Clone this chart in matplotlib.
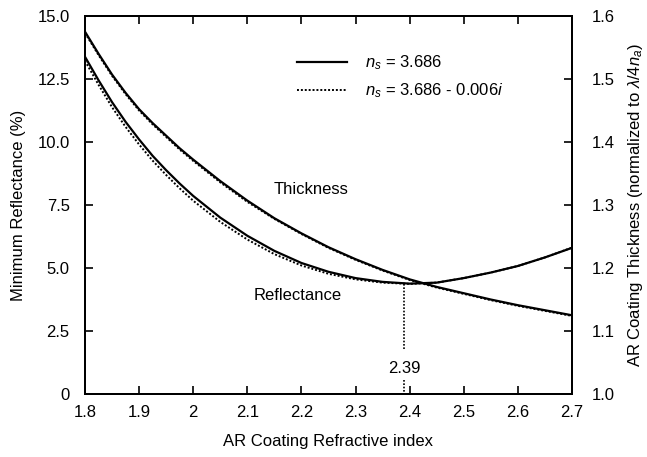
import numpy as np
import matplotlib
matplotlib.use("Agg")
import matplotlib.pyplot as plt

plt.rcParams['font.family'] = ['Liberation Sans', 'DejaVu Sans']
plt.rcParams['mathtext.fontset'] = 'custom'
plt.rcParams['mathtext.rm'] = 'Liberation Sans'
plt.rcParams['mathtext.it'] = 'Liberation Sans:italic'

# refractive index of the AR coating
n_coat = [1.800, 1.825, 1.850, 1.875, 1.900, 1.925, 1.950, 1.975, 2.000,
          2.050, 2.100, 2.150, 2.200, 2.250, 2.300, 2.350, 2.400, 2.450,
          2.500, 2.550, 2.600, 2.650, 2.700]

# minimum reflectance (%), ns = 3.686
refl = [13.38, 12.45, 11.58, 10.80, 10.10, 9.45, 8.88, 8.35, 7.86,
        7.00, 6.28, 5.68, 5.20, 4.85, 4.60, 4.45, 4.38, 4.42,
        4.60, 4.82, 5.08, 5.42, 5.80]
# ns = 3.686 - 0.006i
refl_k = [13.22, 12.27, 11.38, 10.60, 9.90, 9.26, 8.69, 8.16, 7.67,
          6.83, 6.13, 5.55, 5.10, 4.77, 4.55, 4.42, 4.37, 4.42,
          4.60, 4.82, 5.08, 5.42, 5.81]

# coating thickness (normalized to lambda/4n_a)
thick = [1.575, 1.540, 1.507, 1.478, 1.452, 1.430, 1.410, 1.390, 1.372,
         1.338, 1.307, 1.279, 1.255, 1.233, 1.214, 1.197, 1.182, 1.170,
         1.160, 1.150, 1.141, 1.133, 1.125]
thick_k = [1.573, 1.538, 1.505, 1.476, 1.450, 1.428, 1.408, 1.388, 1.370,
           1.336, 1.305, 1.278, 1.254, 1.232, 1.213, 1.196, 1.181, 1.169,
           1.159, 1.149, 1.140, 1.132, 1.124]

n_opt = 2.39
r_opt = 4.38

x_ticks = [1.8, 1.9, 2.0, 2.1, 2.2, 2.3, 2.4, 2.5, 2.6, 2.7]
x_labels = ['1.8', '1.9', '2', '2.1', '2.2', '2.3', '2.4', '2.5', '2.6', '2.7']
y_ticks = [0, 2.5, 5.0, 7.5, 10.0, 12.5, 15.0]
y_labels = ['0', '2.5', '5.0', '7.5', '10.0', '12.5', '15.0']
y2_ticks = [1.0, 1.1, 1.2, 1.3, 1.4, 1.5, 1.6]
y2_labels = ['1.0', '1.1', '1.2', '1.3', '1.4', '1.5', '1.6']

dots = (0, (1, 1))

fig = plt.figure(figsize=(6.47, 4.57), dpi=100)
ax = fig.add_axes([0.1314, 0.1378, 0.7526, 0.8272])
ax2 = ax.twinx()

ax.plot(n_coat, refl, color='black', lw=1.6, label=r'$n_s$ = 3.686')
ax.plot(n_coat, refl_k, color='black', lw=1.4, ls=dots, label=r'$n_s$ = 3.686 - 0.006$i$')
ax2.plot(n_coat, thick, color='black', lw=1.6)
ax2.plot(n_coat, thick_k, color='black', lw=1.4, ls=dots)

# marker for the optimum index
ax.plot([n_opt, n_opt], [r_opt, 1.75], color='black', lw=1.2, ls=dots)
ax.plot([n_opt, n_opt], [0.55, 0], color='black', lw=1.2, ls=dots)
ax.text(n_opt, 1.0, '2.39', ha='center', va='center', fontsize=12)

ax.text(2.218, 8.1, 'Thickness', ha='center', va='center', fontsize=12)
ax.text(2.194, 3.9, 'Reflectance', ha='center', va='center', fontsize=12)

ax.set_xlim(1.8, 2.7)
ax.set_ylim(0, 15)
ax2.set_ylim(1.0, 1.6)
ax.set_xticks(x_ticks)
ax.set_xticklabels(x_labels)
ax.set_yticks(y_ticks)
ax.set_yticklabels(y_labels)
ax2.set_yticks(y2_ticks)
ax2.set_yticklabels(y2_labels)

ax.tick_params(direction='in', length=6, width=1.2, labelsize=12, top=True, pad=8)
ax.tick_params(axis='y', pad=11)
ax2.tick_params(direction='in', length=6, width=1.2, labelsize=12, pad=14)
for a in (ax, ax2):
    for s in a.spines.values():
        s.set_linewidth(1.4)

ax.set_xlabel('AR Coating Refractive index', fontsize=12, labelpad=10)
ax.set_ylabel('Minimum Reflectance (%)', fontsize=12, labelpad=8)
ax2.set_ylabel(r'AR Coating Thickness (normalized to $\lambda/4n_a$)', fontsize=12, labelpad=8)

ax.legend(loc='upper right', bbox_to_anchor=(0.89, 0.94), frameon=False,
          fontsize=12, handlelength=3.0, handletextpad=1.1, labelspacing=0.55)

fig.savefig('out.png', dpi=100)
